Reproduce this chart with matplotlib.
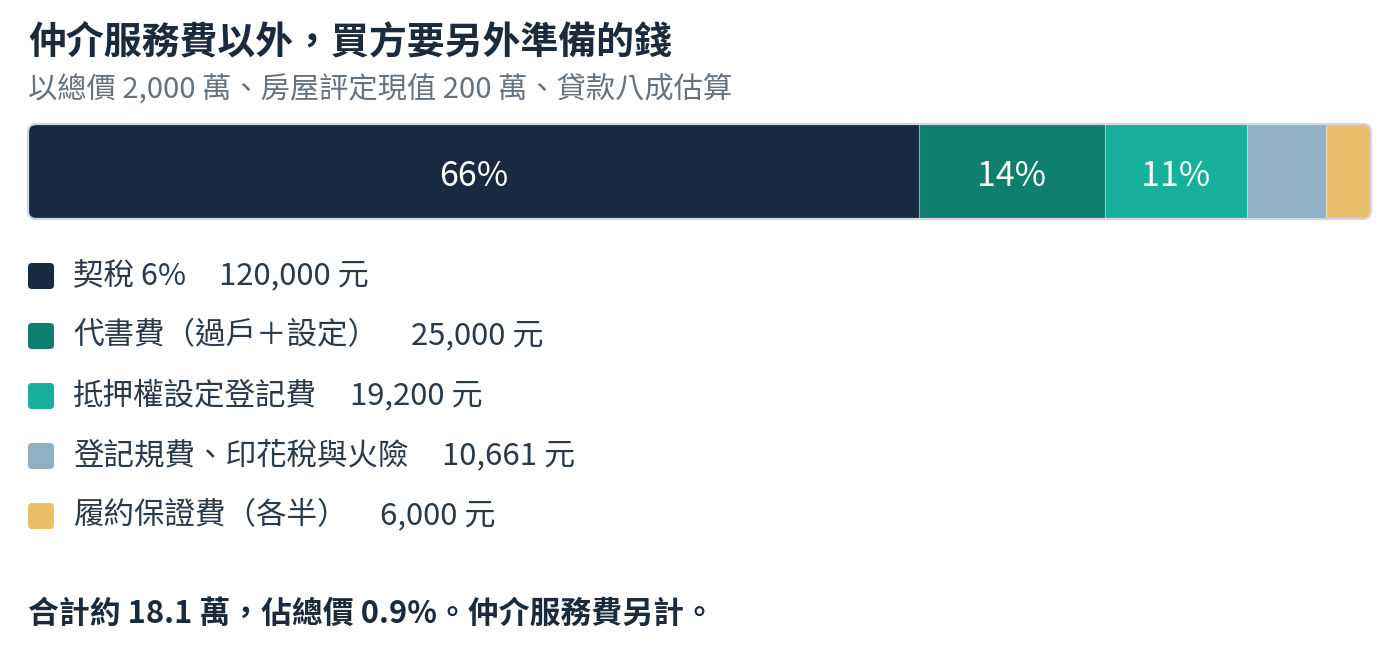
import matplotlib
matplotlib.use("Agg")
import matplotlib.pyplot as plt
from matplotlib.patches import FancyBboxPatch

# ---- data ----
categories = ["契稅 6%", "代書費（過戶＋設定）", "抵押權設定登記費", "登記規費、印花稅與火險", "履約保證費（各半）"]
values = [120000, 25000, 19200, 10661, 6000]
colors = ["#172a3f", "#0e7f6e", "#16b09b", "#90b0c3", "#e8c06c"]
title = "仲介服務費以外，買方要另外準備的錢"
subtitle = "以總價 2,000 萬、房屋評定現值 200 萬、貸款八成估算"
footer = "合計約 18.1 萬，佔總價 0.9%。仲介服務費另計。"
unit = "元"

FAM = ["Noto Sans CJK TC", "DejaVu Sans"]
plt.rcParams["font.family"] = FAM

W, H = 1400, 648
fig = plt.figure(figsize=(W / 100, H / 100), dpi=100)
fig.patch.set_facecolor("white")

# overlay axes in pixel coordinates
ov = fig.add_axes([0, 0, 1, 1])
ov.set_xlim(0, W)
ov.set_ylim(H, 0)
ov.axis("off")
ov.set_zorder(2)
ov.patch.set_alpha(0)

ov.text(28, 42, title, fontsize=27.3, fontweight="bold", color="#1c2b3b", va="center", ha="left")
ov.text(28, 89, subtitle, fontsize=21.1, color="#66737f", va="center", ha="left")

# ---- stacked bar ----
bx0, bx1, by0, by1 = 28, 1371, 124, 219
bax = fig.add_axes([bx0 / W, 1 - by1 / H, (bx1 - bx0) / W, (by1 - by0) / H])
bax.set_zorder(1)
total = sum(values)
bax.set_xlim(0, total)
bax.set_ylim(-0.5, 0.5)
bax.axis("off")

clip = FancyBboxPatch((bx0, by0), bx1 - bx0, by1 - by0, boxstyle="round,pad=0,rounding_size=8",
                      transform=ov.transData, facecolor="none", edgecolor="none")
ov.add_patch(clip)

left = 0
for v, c in zip(values, colors):
    bars = bax.barh(0, v, left=left, height=1.0, color=c, edgecolor=(1, 1, 1, 0.25), linewidth=0.8)
    for b in bars:
        b.set_clip_path(clip)
    pct = v / total * 100
    if pct >= 8:
        bax.text(left + v / 2, -0.05, f"{pct:.0f}%", color="white", fontsize=24.5,
                 ha="center", va="center")
    left += v

border = FancyBboxPatch((bx0, by0), bx1 - bx0, by1 - by0, boxstyle="round,pad=0,rounding_size=8",
                        facecolor="none", edgecolor="#cfd8e0", linewidth=1.6)
ov.add_patch(border)

# ---- legend list ----
fig.canvas.draw()
renderer = fig.canvas.get_renderer()
row_y = [276, 336, 396, 456, 516]
for cat, v, c, y in zip(categories, values, colors, row_y):
    sq = FancyBboxPatch((28, y - 13), 26, 26, boxstyle="round,pad=0,rounding_size=4",
                        facecolor=c, edgecolor="none")
    ov.add_patch(sq)
    t = ov.text(73, y, cat, fontsize=22, color="#2b3a4a", va="center", ha="left")
    bb = t.get_window_extent(renderer)
    ov.text(bb.x1 + 33, y, f"{v:,} {unit}", fontsize=22.4, color="#2b3a4a", va="center", ha="left")

ov.text(28, 614, footer, fontsize=22.2, fontweight="bold", color="#1c2b3b", va="center", ha="left")

fig.savefig("out.png", dpi=100, facecolor="white")
